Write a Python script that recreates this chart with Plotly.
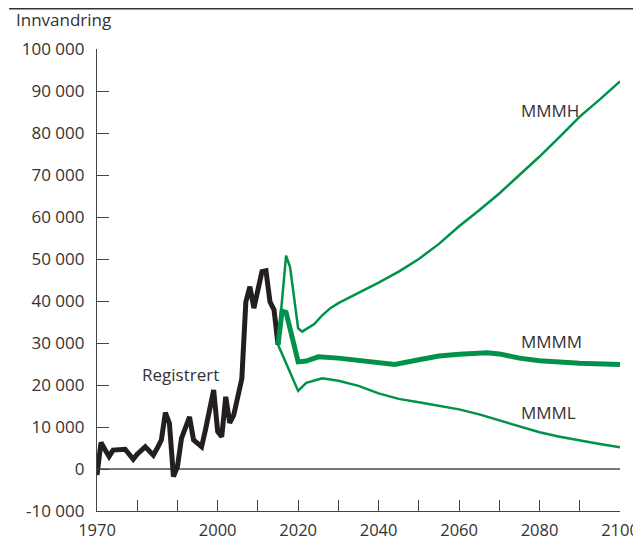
import plotly.graph_objects as go

# ---- data ----
reg_years = list(range(1970, 2016))
reg_values = [-1400, 6300, 4600, 3000, 4500, 4600, 4600, 4700, 3500, 2300,
              3500, 4600, 5300, 4300, 3300, 5000, 6900, 13400, 10900, -1800,
              600, 7300, 9800, 12400, 6900, 6000, 5300, 9500, 13600, 18800,
              8900, 7700, 17200, 11000, 12900, 17500, 21500, 39800, 43400, 38300,
              42500, 47000, 47200, 39800, 37900, 29600]

mmmh_years = [2015, 2016, 2017, 2018, 2020, 2021, 2024, 2026, 2028, 2030, 2035, 2040,
              2045, 2050, 2055, 2060, 2065, 2070, 2075, 2080, 2085, 2090, 2095, 2100]
mmmh_values = [29600, 40000, 50800, 48000, 33500, 32700, 34500, 36600, 38300, 39500, 41900, 44400,
               47000, 50000, 53600, 57800, 61600, 65600, 70000, 74400, 79100, 83900, 88000, 92300]

mmmm_years = [2015, 2016, 2017, 2020, 2022, 2025, 2030, 2035, 2040, 2044, 2050, 2055,
              2060, 2067, 2070, 2075, 2080, 2090, 2100]
mmmm_values = [29600, 37600, 37300, 25500, 25700, 26700, 26400, 25900, 25300, 24900, 26000, 26900,
               27300, 27700, 27400, 26400, 25800, 25200, 24900]

mmml_years = [2015, 2019, 2020, 2022, 2026, 2030, 2035, 2040, 2045, 2050, 2055, 2060,
              2065, 2070, 2075, 2080, 2085, 2090, 2095, 2100]
mmml_values = [29600, 20800, 18600, 20500, 21600, 21000, 19800, 18000, 16700, 15900, 15100, 14200,
               13000, 11550, 10100, 8740, 7700, 6750, 5950, 5170]

x_tickvals = [1970, 1980, 1990, 2000, 2010, 2020, 2030, 2040, 2050, 2060, 2070, 2080, 2090, 2100]
x_ticktext = ["1970", "", "", "2000", "", "2020", "", "2040", "", "2060", "", "2080", "", "2100"]
y_tickvals = [-10000, 0, 10000, 20000, 30000, 40000, 50000, 60000, 70000, 80000, 90000, 100000]
y_ticktext = ["-10 000", "0", "10 000", "20 000", "30 000", "40 000", "50 000",
              "60 000", "70 000", "80 000", "90 000", "100 000"]

GREEN = "#00924A"
BLACK = "#231F20"
TXT = "#333333"
FONT = "Open Sans"
FS = 17
XFS = 16.5
YFS = 17

fig = go.Figure()
fig.add_trace(go.Scatter(x=reg_years, y=reg_values, mode="lines",
                         line=dict(color=BLACK, width=5), name="Registrert"))
fig.add_trace(go.Scatter(x=mmmh_years, y=mmmh_values, mode="lines",
                         line=dict(color=GREEN, width=2.5), name="MMMH"))
fig.add_trace(go.Scatter(x=mmmm_years, y=mmmm_values, mode="lines",
                         line=dict(color=GREEN, width=5), name="MMMM"))
fig.add_trace(go.Scatter(x=mmml_years, y=mmml_values, mode="lines",
                         line=dict(color=GREEN, width=2.5), name="MMML"))

# page body has an 8px margin, so the figure is sized to end at the window edge
fig.update_layout(
    width=633, height=533,
    margin=dict(l=89, r=21, t=41, b=30, autoexpand=False),
    paper_bgcolor="white", plot_bgcolor="white",
    showlegend=False,
    font=dict(family=FONT, size=FS, color=TXT),
    xaxis=dict(range=[1970, 2100], tickvals=x_tickvals, ticktext=x_ticktext,
               ticks="inside", ticklen=11, tickwidth=1.2, tickcolor="#444",
               showline=True, linecolor="#444", linewidth=1.2, automargin=False,
               showgrid=False, zeroline=False, ticklabelstandoff=4,
               tickfont=dict(family=FONT, size=XFS, color=TXT)),
    yaxis=dict(range=[-10000, 100000], tickvals=y_tickvals, ticktext=y_ticktext,
               ticks="inside", ticklen=12, tickwidth=1.2, tickcolor="#444",
               showline=True, linecolor="#444", linewidth=1.2, automargin=False,
               showgrid=False, zeroline=True, zerolinecolor="#777", zerolinewidth=1.5,
               ticklabelstandoff=8,
               tickfont=dict(family=FONT, size=YFS, color=TXT)),
)

fig.add_shape(type="line", xref="paper", yref="paper", x0=-0.168, x1=1.05, y0=1.087, y1=1.087,
              line=dict(color="#333", width=1.5))

fig.add_annotation(text="Innvandring", xref="paper", yref="paper", x=-0.1587, y=1.0628,
                   xanchor="left", yanchor="middle", showarrow=False,
                   font=dict(family=FONT, size=FS, color=TXT))
fig.add_annotation(text="Registrert", x=1990.8, y=22400, xanchor="center", yanchor="middle",
                   showarrow=False, font=dict(family=FONT, size=FS, color=TXT))
fig.add_annotation(text="MMMH", x=2074.9, y=85300, xanchor="left", yanchor="middle",
                   showarrow=False, font=dict(family=FONT, size=FS, color=TXT))
fig.add_annotation(text="MMMM", x=2074.9, y=30300, xanchor="left", yanchor="middle",
                   showarrow=False, font=dict(family=FONT, size=FS, color=TXT))
fig.add_annotation(text="MMML", x=2074.9, y=13400, xanchor="left", yanchor="middle",
                   showarrow=False, font=dict(family=FONT, size=FS, color=TXT))

fig.write_html("out.html")
